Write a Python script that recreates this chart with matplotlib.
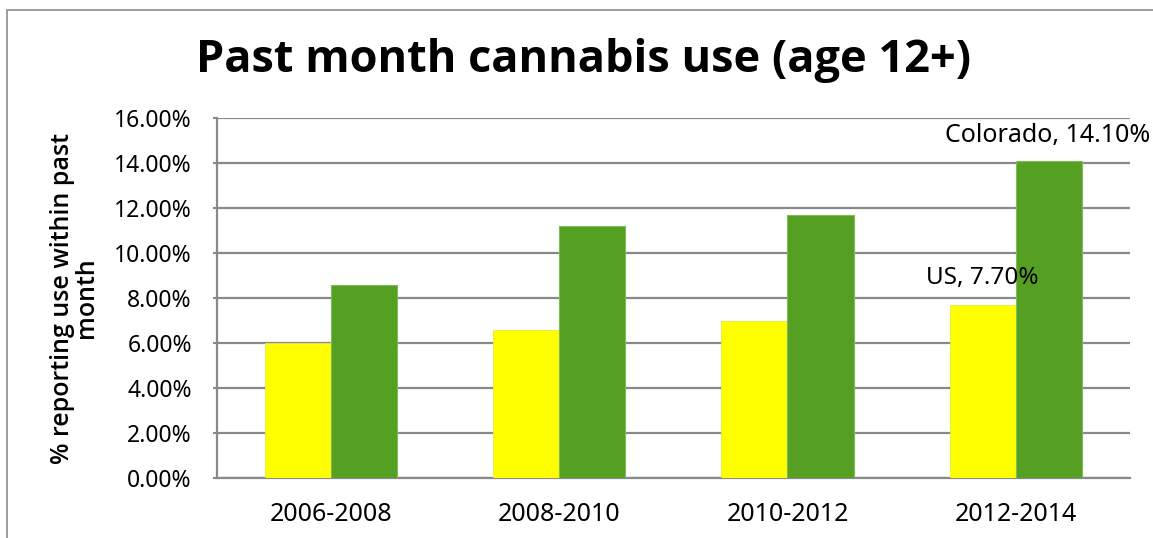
import numpy as np
import matplotlib.pyplot as plt
from matplotlib.patches import Rectangle

periods = ["2006-2008", "2008-2010", "2010-2012", "2012-2014"]
us = [6.0, 6.6, 7.0, 7.7]
colorado = [8.6, 11.2, 11.7, 14.1]
yticks = [0, 2, 4, 6, 8, 10, 12, 14, 16]

plt.rcParams['font.family'] = ['Noto Sans', 'DejaVu Sans']

fig = plt.figure(figsize=(11.53, 5.38), dpi=100)
ax = fig.add_axes([0.188, 0.1115, 0.792, 0.669])

# ramecek - jen levy a horni okraj je videt
fig.patches.append(Rectangle((0.006, -0.05), 1.05, 1.031, transform=fig.transFigure,
                             fill=False, edgecolor="#8c8c8c", linewidth=1.2))

x = np.arange(len(periods))
w = 0.29
ax.bar(x - w / 2, us, w, color="#ffff00", edgecolor="#e8e840", linewidth=0.6, zorder=3)
ax.bar(x + w / 2, colorado, w, color="#55a022", edgecolor="#7dbb5a", linewidth=0.8, zorder=3)

ax.set_xlim(-0.5, 3.5)
ax.set_ylim(0, 16)
ax.set_yticks(yticks)
ax.set_yticklabels(["%.2f%%" % v for v in yticks], fontsize=16.5)
ax.set_xticks(x)
ax.set_xticklabels(periods, fontsize=18)
ax.tick_params(axis="x", length=0, pad=17)
ax.tick_params(axis="y", length=3, color="#898989", width=1.5, pad=15)

ax.grid(axis="y", color="#898989", linewidth=1.6, zorder=0)
for s in ["top", "right"]:
    ax.spines[s].set_visible(False)
for s in ["left", "bottom"]:
    ax.spines[s].set_color("#898989")
    ax.spines[s].set_linewidth(1.6)

ax.set_ylabel("% reporting use within past\nmonth", fontsize=18, labelpad=11, linespacing=0.95,
              family=["Open Sans", "DejaVu Sans"], fontweight="semibold")

ax.text(3.14, 15.24, "Colorado, 14.10%", ha="center", va="center", fontsize=18)
ax.text(2.855, 8.9, "US, 7.70%", ha="center", va="center", fontsize=17.5)

fig.text(0.506, 0.888, "Past month cannabis use (age 12+)", ha="center", va="center",
         fontsize=32.5, fontweight="bold", family=["Open Sans", "DejaVu Sans"])

plt.savefig("out.png", dpi=100)
